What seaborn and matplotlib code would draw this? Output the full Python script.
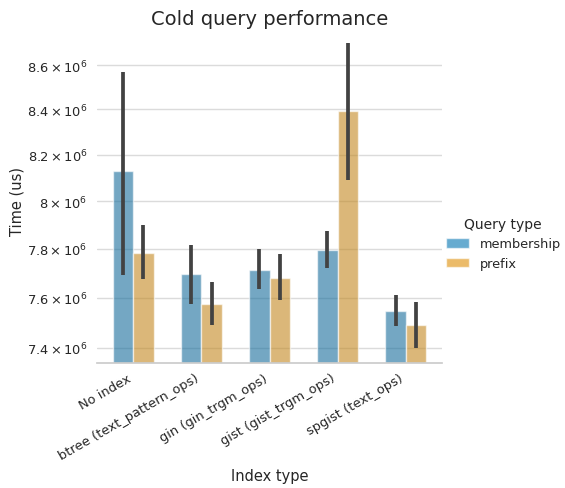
import matplotlib
matplotlib.use("Agg")
import matplotlib.pyplot as plt
import seaborn as sns
import pandas as pd
from matplotlib.patches import Patch

index_types = ["No index", "btree (text_pattern_ops)", "gin (gin_trgm_ops)",
               "gist (gist_trgm_ops)", "spgist (text_ops)"]
query_types = ["membership", "prefix"]

membership_mean = [8.128e6, 7.694e6, 7.714e6, 7.795e6, 7.546e6]
membership_low = [7.692e6, 7.574e6, 7.635e6, 7.720e6, 7.486e6]
membership_high = [8.571e6, 7.817e6, 7.800e6, 7.876e6, 7.612e6]

prefix_mean = [7.783e6, 7.575e6, 7.680e6, 8.393e6, 7.491e6]
prefix_low = [7.675e6, 7.491e6, 7.590e6, 8.090e6, 7.401e6]
prefix_high = [7.900e6, 7.665e6, 7.779e6, 8.701e6, 7.584e6]

sns.set_theme(style="whitegrid", context="notebook")

rows = []
for q, means, lows, highs in [("membership", membership_mean, membership_low, membership_high),
                              ("prefix", prefix_mean, prefix_low, prefix_high)]:
    for i, m, lo, hi in zip(index_types, means, lows, highs):
        rows.append({"Index type": i, "Query type": q, "Time (us)": m, "lo": lo, "hi": hi})
df = pd.DataFrame(rows)

fig = plt.figure(figsize=(5.65, 4.89), dpi=100)
ax = fig.add_axes([0.172, 0.256, 0.61, 0.662])
palette = sns.color_palette("colorblind", 2)
sns.barplot(data=df, x="Index type", y="Time (us)", hue="Query type",
            hue_order=query_types, order=index_types, palette=palette,
            errorbar=None, width=0.6, alpha=0.6, ax=ax, legend=False)
ax.set_yscale("log")

# error bars from the data
for h_i, q in enumerate(query_types):
    sub = df[df["Query type"] == q].set_index("Index type").loc[index_types]
    bars = ax.containers[h_i]
    xs = [b.get_x() + b.get_width() / 2 for b in bars]
    ax.vlines(xs, sub["lo"].values, sub["hi"].values, color=".26", linewidth=2.7, zorder=3)

ax.set_ylim(7.341e6, 8.72e6)
ax.grid(True, which="both", axis="y", color=".86", linewidth=1)
ax.grid(False, axis="x", which="both")
ax.set_axisbelow(True)
ax.spines["bottom"].set_color(".8")
ax.set_title("Cold query performance", fontsize=14, color=".15", pad=11)
ax.set_xlabel("Index type", fontsize=10.5)
ax.set_ylabel("Time (us)", fontsize=10.5, labelpad=2)
ax.tick_params(axis="y", which="both", labelsize=9.4, length=0, pad=7)
ax.tick_params(axis="x", labelsize=9.4, length=0, pad=6)
plt.setp(ax.get_xticklabels(), rotation=30, ha="right")
sns.despine(ax=ax, left=True)

handles = [Patch(facecolor=palette[i], alpha=0.6, label=q) for i, q in enumerate(query_types)]
leg = fig.legend(handles=handles, title="Query type", loc="center left",
                 bbox_to_anchor=(0.768, 0.5), frameon=False, fontsize=9.3, title_fontsize=10,
                 handlelength=1.8, handletextpad=0.85)

fig.savefig("out.png", dpi=100)
